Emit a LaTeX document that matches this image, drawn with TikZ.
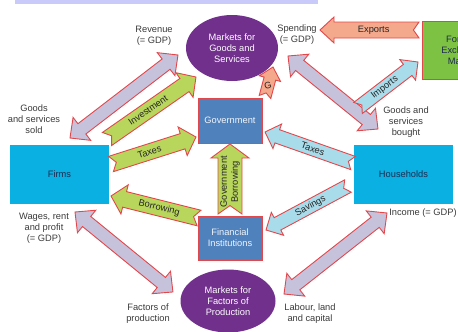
\documentclass[tikz,border=0pt]{standalone}
\usepackage{fontspec}
\setmainfont{Liberation Sans}
\usetikzlibrary{calc,shapes.geometric}

\definecolor{edgered}{HTML}{E2474B}
\definecolor{mktpurple}{HTML}{70308C}
\definecolor{boxblue}{HTML}{4F81BD}
\definecolor{sectorcyan}{HTML}{0AB0E2}
\definecolor{forexgreen}{HTML}{7DC242}
\definecolor{flowlilac}{HTML}{C6C2DC}
\definecolor{flowgreen}{HTML}{B9D65C}
\definecolor{flowsalmon}{HTML}{F4A98C}
\definecolor{flowblue}{HTML}{A9DCEA}
\definecolor{topbar}{HTML}{CACAFA}
\definecolor{labelgray}{HTML}{3A3A3A}
\definecolor{navytext}{HTML}{1D2B50}

% block arrow from #3 to #4: style #2, shaft half width #5, head half width #6,
% head length #7, label #8 turned by an extra #1 degrees (tail is notched)
\newcommand\flowarrow[8][0]{%
  \pgfpointdiff{\pgfpointanchor{#3}{center}}{\pgfpointanchor{#4}{center}}%
  \pgfgetlastxy{\fdx}{\fdy}%
  \pgfmathsetmacro\fang{atan2(\fdy,\fdx)}%
  \pgfmathsetmacro\flen{veclen(\fdx,\fdy)}%
  \pgfmathsetmacro\ftxt{(\fang>91 ? \fang-180 : (\fang<-89 ? \fang+180 : \fang))+#1}%
  \begin{scope}[shift={(#3)}, rotate=\fang, x=1pt, y=1pt]
    \draw[#2] (0,#5) -- (\flen-#7,#5) -- (\flen-#7,#6) -- (\flen,0)
      -- (\flen-#7,-#6) -- (\flen-#7,-#5) -- (0,-#5) -- (0.7*#5,0) -- cycle;
    \node[arrowtext, rotate=\ftxt] at ({(\flen-#7)/2+0.35*#5},0) {#8};
  \end{scope}}

% two-headed block arrow between #2 and #3
\newcommand\twowayarrow[6]{%
  \pgfpointdiff{\pgfpointanchor{#2}{center}}{\pgfpointanchor{#3}{center}}%
  \pgfgetlastxy{\fdx}{\fdy}%
  \pgfmathsetmacro\fang{atan2(\fdy,\fdx)}%
  \pgfmathsetmacro\flen{veclen(\fdx,\fdy)}%
  \begin{scope}[shift={(#2)}, rotate=\fang, x=1pt, y=1pt]
    \draw[#1] (0,0) -- (#6,#5) -- (#6,#4) -- (\flen-#6,#4) -- (\flen-#6,#5)
      -- (\flen,0) -- (\flen-#6,-#5) -- (\flen-#6,-#4) -- (#6,-#4) -- (#6,-#5) -- cycle;
  \end{scope}}

\begin{document}
\begin{tikzpicture}[x=1pt, y=-1pt,
    every node/.style={font=\fontsize{9.3}{11}\selectfont, inner sep=1pt},
    market/.style={ellipse, fill=mktpurple, text=white, align=center},
    agency/.style={rectangle, fill=boxblue, draw=edgered, line width=1pt,
      text=white!92!boxblue, align=center},
    sector/.style={rectangle, fill=sectorcyan, text=navytext,
      minimum width=99pt, minimum height=59pt},
    flowlabel/.style={text=labelgray, align=center},
    arrowtext/.style={text=black!85, align=center, inner sep=0pt},
    lilacflow/.style={fill=flowlilac, draw=edgered, line width=0.9pt, line join=miter},
    greenflow/.style={fill=flowgreen, draw=edgered, line width=0.9pt, line join=miter},
    salmonflow/.style={fill=flowsalmon, draw=edgered, line width=0.9pt, line join=miter},
    blueflow/.style={fill=flowblue, draw=edgered, line width=0.9pt, line join=miter}]
  \useasboundingbox (0,0) rectangle (458,332);
  \clip (0,0) rectangle (458,332);

  % band along the top edge
  \fill[topbar] (15,0) rectangle (318,3.5);

  % markets, agencies and sectors
  \node[market, minimum width=92pt, minimum height=66pt] (goods) at (232,48)
    {Markets for\\Goods and\\Services};
  \node[market, minimum width=95pt, minimum height=63pt] (factors) at (228,301)
    {Markets for\\Factors of\\Production};
  \node[agency, minimum width=64pt, minimum height=45pt] (gov) at (230,120.5) {Government};
  \node[agency, minimum width=64pt, minimum height=44pt] (fin) at (230,238)
    {Financial\\Institutions};
  \node[sector] (firms) at (59.5,174) {Firms};
  \node[sector] (house) at (403.5,174) {Households};
  \node[rectangle, fill=forexgreen, draw=edgered, line width=1pt, text=navytext,
    align=center, minimum width=80pt, minimum height=58pt] (forex) at (462,50)
    {Foreign\\Exchange\\Market};

  % arrow end points
  \coordinate (revA) at (70,138);    \coordinate (revB) at (178,55);
  \coordinate (invA) at (107,139);   \coordinate (invB) at (196,77);
  \coordinate (txfA) at (111,164);   \coordinate (txfB) at (196,137);
  \coordinate (borA) at (199,218);   \coordinate (borB) at (111,196);
  \coordinate (gbA) at (230,214);    \coordinate (gbB) at (230,144);
  \coordinate (gA) at (265,97);      \coordinate (gB) at (273,67);
  \coordinate (expA) at (419,30);    \coordinate (expB) at (320,30);
  \coordinate (impA) at (358,108);   \coordinate (impB) at (418,62);
  \coordinate (spA) at (288,56);     \coordinate (spB) at (378,129);
  \coordinate (txhA) at (353,163);   \coordinate (txhB) at (265,132);
  \coordinate (savA) at (348,186);   \coordinate (savB) at (266,230);
  \coordinate (wgA) at (75,212);     \coordinate (wgB) at (173,292);
  \coordinate (incA) at (387,213);   \coordinate (incB) at (284,294);

  % flows
  \twowayarrow{lilacflow}{revA}{revB}{6.5}{14.5}{15}
  \twowayarrow{lilacflow}{spA}{spB}{6.5}{14.5}{15}
  \twowayarrow{lilacflow}{wgA}{wgB}{6.5}{14.5}{15}
  \twowayarrow{lilacflow}{incA}{incB}{6.5}{14.5}{15}
  \flowarrow{greenflow}{invA}{invB}{8}{15}{14}{Investment}
  \flowarrow{greenflow}{txfA}{txfB}{8}{15}{14}{Taxes}
  \flowarrow{greenflow}{borA}{borB}{8}{15}{14}{Borrowing}
  \flowarrow{greenflow}{gbA}{gbB}{12}{19}{14}{Government\\Borrowing}
  \flowarrow[-62]{salmonflow}{gA}{gB}{6}{11}{12}{G}
  \flowarrow{salmonflow}{expA}{expB}{8}{13}{14}{Exports}
  \flowarrow{blueflow}{impA}{impB}{7}{13}{13}{Imports}
  \flowarrow{blueflow}{txhA}{txhB}{7}{13}{13}{Taxes}
  \flowarrow{blueflow}{savA}{savB}{7}{13}{13}{Savings}

  % flow labels
  \node[flowlabel] (l-rev) at (154,36) {Revenue\\(= GDP)};
  \node[flowlabel] (l-sold) at (34,119) {Goods\\and services\\sold};
  \node[flowlabel] (l-spend) at (297,35) {Spending\\(= GDP)};
  \node[flowlabel] (l-bought) at (406,122) {Goods and\\services\\bought};
  \node[flowlabel] (l-wage) at (44,228) {Wages, rent\\and profit\\(= GDP)};
  \node[flowlabel] (l-inc) at (423,213) {Income (= GDP)};
  \node[flowlabel] (l-fop) at (148,314) {Factors of\\production};
  \node[flowlabel] (l-llc) at (310,314) {Labour, land\\and capital};
\end{tikzpicture}
\end{document}
